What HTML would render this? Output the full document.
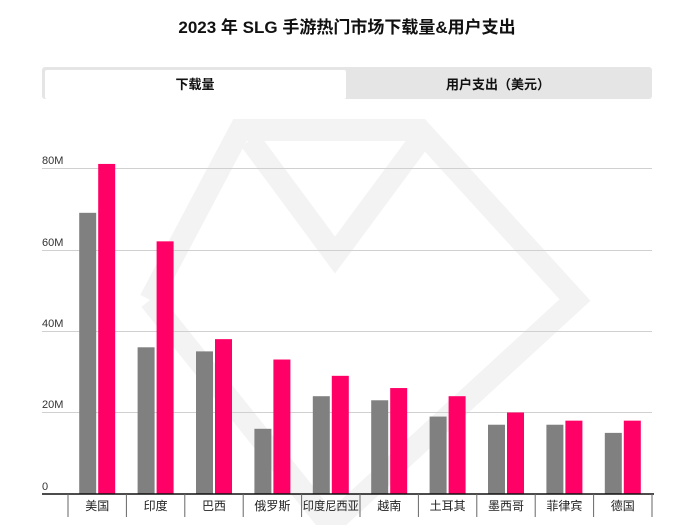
<!DOCTYPE html>
<html><head><meta charset="utf-8"><style>
body{margin:0;background:#fff;width:695px;height:525px;overflow:hidden;font-family:"Liberation Sans","Noto Sans CJK SC",sans-serif;}
</style></head><body>
<svg width="695" height="525" xmlns="http://www.w3.org/2000/svg" font-family="Liberation Sans, Noto Sans CJK SC, sans-serif">
<text x="347" y="33" text-anchor="middle" font-size="17" font-weight="bold" fill="#111">2023 年 SLG 手游热门市场下载量&amp;用户支出</text>
<rect x="42" y="67" width="610" height="32" rx="3" fill="#e5e5e5"/>
<rect x="45" y="70" width="301" height="29" rx="2" fill="#fff"/>
<text x="195" y="89" text-anchor="middle" font-size="13" font-weight="bold" fill="#111">下载量</text>
<text x="498" y="89" text-anchor="middle" font-size="13" font-weight="bold" fill="#111">用户支出（美元）</text>
<g fill="none" stroke="#f3f3f3" stroke-width="22">
<polyline points="150,300 240,130 420,130 575,300 330,525 150,300"/>
<polyline points="250,140 335,255 420,140"/>
</g>
<g stroke="#d0d0d0" stroke-width="1">
<line x1="42" x2="652" y1="168.5" y2="168.5"/>
<line x1="42" x2="652" y1="250.5" y2="250.5"/>
<line x1="42" x2="652" y1="331.5" y2="331.5"/>
<line x1="42" x2="652" y1="412.5" y2="412.5"/>
</g>
<g font-size="11" fill="#333">
<text x="42" y="164">80M</text><text x="42" y="246">60M</text><text x="42" y="327">40M</text><text x="42" y="408">20M</text><text x="42" y="490">0</text>
</g>
<g id="bars"></g>
<line x1="42" x2="654" y1="494" y2="494" stroke="#111" stroke-width="1.5"/>
<g id="ticks" stroke="#666" stroke-width="1"></g>
<g id="labels" font-size="12" fill="#222" text-anchor="middle"></g>
<script>
var g=[69,36,35,16,24,23,19,17,17,15],p=[81,62,38,33,29,26,24,20,18,18];
var n=["美国","印度","巴西","俄罗斯","印度尼西亚","越南","土耳其","墨西哥","菲律宾","德国"];
var ns="http://www.w3.org/2000/svg",B=document.getElementById("bars"),T=document.getElementById("ticks"),L=document.getElementById("labels");
var w=58.4,x0=68,k=326/80;
function r(x,y,wd,h,f){var e=document.createElementNS(ns,"rect");e.setAttribute("x",x);e.setAttribute("y",y);e.setAttribute("width",wd);e.setAttribute("height",h);e.setAttribute("fill",f);B.appendChild(e);}
for(var i=0;i<10;i++){var c=x0+w*i+w/2;
r(c-18,494-g[i]*k,17,g[i]*k,"#808080");r(c+1,494-p[i]*k,17,p[i]*k,"#ff0066");
var t=document.createElementNS(ns,"text");t.setAttribute("x",c);t.setAttribute("y",510);t.textContent=n[i];if(i==4){t.setAttribute("textLength","56");t.setAttribute("lengthAdjust","spacingAndGlyphs");}L.appendChild(t);}
for(var i=0;i<=10;i++){var l=document.createElementNS(ns,"line");var x=x0+w*i;l.setAttribute("x1",x);l.setAttribute("x2",x);l.setAttribute("y1",494);l.setAttribute("y2",517);T.appendChild(l);}
</script>
</svg>
</body></html>
